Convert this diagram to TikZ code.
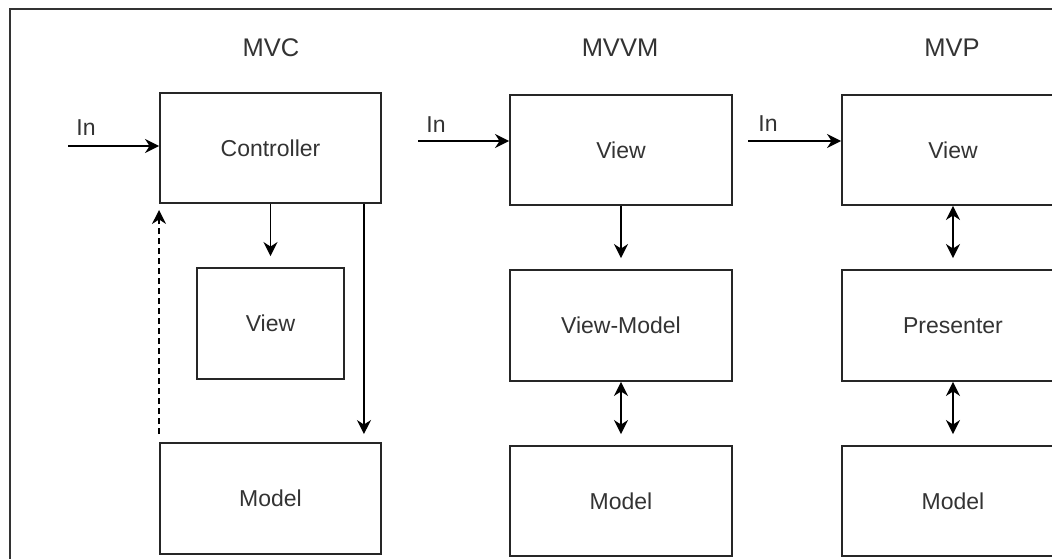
\documentclass[tikz,border=0pt]{standalone}
\usepackage{fontspec}
\setmainfont{Liberation Sans}
\usetikzlibrary{arrows.meta,calc}
\begin{document}
\begin{tikzpicture}[x=1pt,y=-1pt,
  box/.style={draw=black!85, line width=1.9pt, fill=white, minimum width=221pt, minimum height=110pt,
    inner sep=0pt, text=black!80, font=\fontsize{23}{26}\selectfont},
  title/.style={text=black!80, font=\fontsize{25.5}{28}\selectfont, inner sep=0pt},
  inlabel/.style={text=black!80, font=\fontsize{23}{26}\selectfont, inner sep=0pt},
  tip/.tip={Stealth[length=14pt,width=14pt,inset=4.5pt]},
  arr/.style={draw=black, line width=1.9pt, -tip},
  darr/.style={draw=black, line width=1.9pt, tip-tip},
  dasharr/.style={draw=black, line width=1.9pt, dash pattern=on 6pt off 4pt, -tip}
]
\useasboundingbox (0,0) rectangle (1052,558);
\clip (0,0) rectangle (1052,558);
\fill[white] (0,0) rectangle (1052,558);
% frame
\draw[black!80, line width=1.9pt] (10,570) -- (10,9) -- (1070,9);

% titles
\node[title] (t1) at (271,48) {MVC};
\node[title] (t2) at (620,48) {MVVM};
\node[title] (t3) at (952,48) {MVP};

% MVC
\node[box] (ctrl) at (270.5,148) {Controller};
\node[box, minimum width=147pt, minimum height=111pt] (view1) at (270.5,323.5) {View};
\node[box, minimum height=111pt] (model1) at (270.5,498.5) {Model};

% MVVM
\node[box, minimum width=222pt] (view2) at (621,150) {View};
\node[box, minimum width=222pt, minimum height=111pt] (vm) at (621,325.5) {View-Model};
\node[box, minimum width=222pt] (model2) at (621,501) {Model};

% MVP
\node[box, minimum width=222pt] (view3) at (953,150) {View};
\node[box, minimum width=222pt, minimum height=111pt] (pres) at (953,325.5) {Presenter};
\node[box, minimum width=222pt] (model3) at (953,501) {Model};

% In arrows
\coordinate (in1) at (68,146);
\coordinate (in2) at (418,141);
\coordinate (in3) at (748,141);
\draw[arr] (in1) -- (in1 -| ctrl.west);
\draw[arr] (in2) -- (in2 -| view2.west);
\draw[arr] (in3) -- (in3 -| view3.west);
\node[inlabel] (l1) at (86,128) {In};
\node[inlabel] (l2) at (436,125) {In};
\node[inlabel] (l3) at (768,124) {In};

% MVC connectors
\draw[arr] (ctrl.south) -- ($(view1.north)+(0,-11)$);
\draw[arr] ($(ctrl.south east)+(-18,0)$) -- ($(model1.north east)+(-18,-8)$);
\draw[dasharr] ($(model1.north west)+(0,-8)$) -- ($(ctrl.south west)+(0,6)$);

% MVVM connectors
\draw[arr] (view2.south) -- ($(vm.north)+(0,-11)$);
\draw[darr] (vm.south) -- ($(model2.north)+(0,-11)$);

% MVP connectors
\draw[darr] (view3.south) -- ($(pres.north)+(0,-11)$);
\draw[darr] (pres.south) -- ($(model3.north)+(0,-11)$);
\end{tikzpicture}
\end{document}
